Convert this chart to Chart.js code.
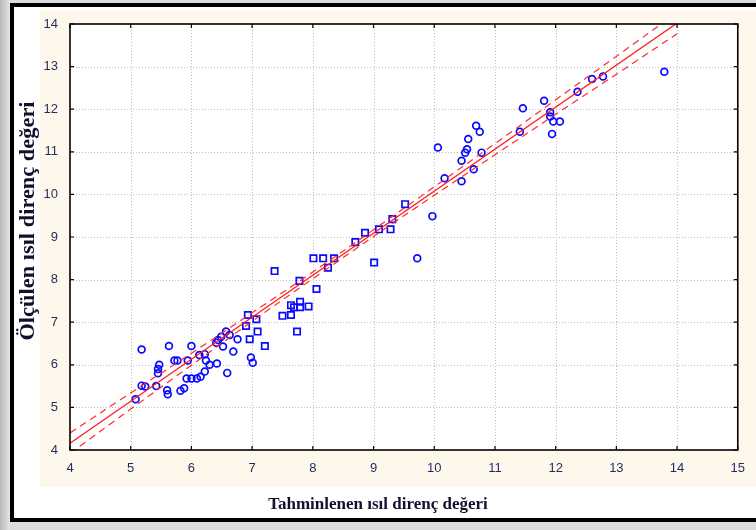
<!DOCTYPE html>
<html>
<head>
<meta charset="utf-8">
<script src="https://cdn.jsdelivr.net/npm/chart.js@4/dist/chart.umd.min.js"></script>
<style>
  html, body { margin: 0; padding: 0; }
  body { width: 756px; height: 530px; position: relative; overflow: hidden; background: #dcdcdc; }
  #shade { position: absolute; left: 0; top: 0; width: 10px; height: 530px; background: linear-gradient(to right, #b9b9b9, #e4e4e4); }
  #frame { position: absolute; left: 10px; top: 3px; width: 760px; height: 511px; border: 4px solid #000; border-right: none; background: #fff; }
  #panel { position: absolute; left: 40px; top: 10px; width: 716px; height: 477px; background: #fdf8eb; }
  #chart { position: absolute; left: 0; top: 0; }
</style>
</head>
<body>
<div id="shade"></div>
<div id="frame"></div>
<div id="panel"></div>
<canvas id="chart" width="756" height="530"></canvas>
<script>
// Axis ticks and titles
const xTickValues = [4, 5, 6, 7, 8, 9, 10, 11, 12, 13, 14, 15];
const yTickValues = [4, 5, 6, 7, 8, 9, 10, 11, 12, 13, 14];
const xTitle = 'Tahminlenen ısıl direnç değeri';
const yTitle = 'Ölçülen ısıl direnç değeri';

// Observations drawn as circles (predicted, measured)
const circleX = [5.08, 5.18, 5.18, 5.24, 5.42, 5.45, 5.45, 5.47, 5.60, 5.61, 5.63, 5.72, 5.77, 5.82, 5.88,
                 5.92, 5.94, 6.00, 6.00, 6.09, 6.13, 6.15, 6.22, 6.24, 6.30, 6.22, 6.42, 6.41, 6.44, 6.49,
                 6.52, 6.57, 6.63, 6.59, 6.69, 6.76, 6.98, 7.01,
                 9.72, 9.97, 10.06, 10.17, 10.45, 10.45, 10.51, 10.54, 10.56, 10.65, 10.69, 10.75, 10.78,
                 11.41, 11.46, 11.81, 11.91, 11.91, 11.96, 12.07, 11.94, 12.36, 12.60, 12.78, 13.79];
const circleY = [5.19, 6.36, 5.51, 5.49, 5.50, 5.80, 5.90, 6.00, 5.40, 5.31, 6.44, 6.10, 6.10, 5.39, 5.45,
                 5.68, 6.10, 6.44, 5.68, 5.68, 6.23, 5.72, 6.25, 6.10, 6.00, 5.84, 6.03, 6.52, 6.58, 6.66,
                 6.43, 6.78, 6.70, 5.81, 6.31, 6.60, 6.17, 6.05,
                 8.50, 9.49, 11.10, 10.38, 10.31, 10.79, 10.98, 11.06, 11.30, 10.59, 11.61, 11.47, 10.98,
                 11.47, 12.02, 12.20, 11.93, 11.83, 11.71, 11.71, 11.42, 12.41, 12.71, 12.77, 12.88];

// Observations drawn as squares (predicted, measured)
const squareX = [6.90, 6.93, 6.96, 7.07, 7.09, 7.21, 7.37, 7.50, 7.64, 7.64, 7.69, 7.74, 7.79, 7.79, 7.93,
                 7.78, 8.06, 8.01, 8.17, 8.35, 8.25, 8.70, 8.86, 9.01, 9.09, 9.28, 9.31, 9.52];
const squareY = [6.91, 7.17, 6.60, 7.07, 6.78, 6.44, 8.20, 7.15, 7.17, 7.40, 7.35, 6.78, 7.48, 7.35, 7.37,
                 7.97, 7.78, 8.50, 8.50, 8.50, 8.28, 8.88, 9.10, 8.40, 9.18, 9.18, 9.42, 9.77];

// Fitted regression line and its confidence band
const fitX = [4, 14];
const fitY = [4.16, 14.02];
const bandX = [4, 5, 6, 7, 8, 9, 10, 11, 12, 13, 14];
const bandUpper = [4.40, 5.34, 6.27, 7.22, 8.18, 9.17, 10.18, 11.19, 12.22, 13.24, 14.27];
const bandLower = [3.92, 4.96, 5.99, 7.02, 8.02, 9.01, 9.98, 10.93, 11.88, 12.82, 13.77];

const pairs = (xs, ys) => xs.map((v, i) => ({ x: v, y: ys[i] }));

const tickColor = '#1f2c5c';
const titleColor = '#12122e';

// White plot area, dotted grid, black frame and inward ticks on all four sides
const plotFrame = {
  id: 'plotFrame',
  beforeDatasetsDraw(chart) {
    const { ctx, chartArea: a, scales: { x, y } } = chart;
    ctx.save();
    ctx.fillStyle = '#ffffff';
    ctx.fillRect(a.left, a.top, a.right - a.left, a.bottom - a.top);
    ctx.strokeStyle = '#bcbcbc';
    ctx.lineWidth = 1;
    ctx.setLineDash([1, 2]);
    ctx.beginPath();
    xTickValues.forEach(v => {
      if (v > x.min && v < x.max) {
        const px = Math.round(x.getPixelForValue(v)) + 0.5;
        ctx.moveTo(px, a.top); ctx.lineTo(px, a.bottom);
      }
    });
    yTickValues.forEach(v => {
      if (v > y.min && v < y.max) {
        const py = Math.round(y.getPixelForValue(v)) + 0.5;
        ctx.moveTo(a.left, py); ctx.lineTo(a.right, py);
      }
    });
    ctx.stroke();
    ctx.restore();
  },
  afterDatasetsDraw(chart) {
    const { ctx, chartArea: a, scales: { x, y } } = chart;
    ctx.save();
    ctx.strokeStyle = '#000';
    ctx.lineWidth = 1.6;
    ctx.strokeRect(a.left, a.top, a.right - a.left, a.bottom - a.top);
    ctx.lineWidth = 1.2;
    ctx.beginPath();
    const t = 4;
    xTickValues.forEach(v => {
      const px = x.getPixelForValue(v);
      ctx.moveTo(px, a.bottom); ctx.lineTo(px, a.bottom - t);
      ctx.moveTo(px, a.top); ctx.lineTo(px, a.top + t);
    });
    yTickValues.forEach(v => {
      const py = y.getPixelForValue(v);
      ctx.moveTo(a.left, py); ctx.lineTo(a.left + t, py);
      ctx.moveTo(a.right, py); ctx.lineTo(a.right - t, py);
    });
    ctx.stroke();
    ctx.restore();
  },
  // Axis titles in a bold serif face; the vertical one is set slightly wide
  afterDraw(chart) {
    const { ctx } = chart;
    ctx.save();
    ctx.fillStyle = titleColor;
    ctx.textAlign = 'center';
    ctx.textBaseline = 'middle';
    ctx.font = 'bold 17px "Liberation Serif", "Times New Roman", serif';
    ctx.fillText(xTitle, 378, 505);
    ctx.translate(29, 221);
    ctx.rotate(-Math.PI / 2);
    ctx.scale(1.12, 1);
    ctx.font = 'bold 20px "Liberation Serif", "Times New Roman", serif';
    ctx.fillText(yTitle, 0, 0);
    ctx.restore();
  }
};

new Chart(document.getElementById('chart'), {
  type: 'scatter',
  data: {
    datasets: [
      {
        label: 'Regresyon',
        data: pairs(fitX, fitY),
        showLine: true,
        borderColor: '#ff1c1c',
        borderWidth: 1.3,
        pointRadius: 0
      },
      {
        label: 'Üst güven sınırı',
        data: pairs(bandX, bandUpper),
        showLine: true,
        tension: 0.4,
        borderColor: '#ff2a2a',
        borderWidth: 1.2,
        borderDash: [7, 5],
        pointRadius: 0
      },
      {
        label: 'Alt güven sınırı',
        data: pairs(bandX, bandLower),
        showLine: true,
        tension: 0.4,
        borderColor: '#ff2a2a',
        borderWidth: 1.2,
        borderDash: [7, 5],
        pointRadius: 0
      },
      {
        label: 'Daire',
        data: pairs(circleX, circleY),
        pointStyle: 'circle',
        pointRadius: 3.4,
        borderWidth: 1.7,
        borderColor: '#0a0aff',
        backgroundColor: 'rgba(255,255,255,0)'
      },
      {
        label: 'Kare',
        data: pairs(squareX, squareY),
        pointStyle: 'rect',
        pointRadius: 4.5,
        borderWidth: 1.7,
        borderColor: '#0a0aff',
        backgroundColor: 'rgba(255,255,255,0)'
      }
    ]
  },
  options: {
    responsive: false,
    animation: false,
    devicePixelRatio: 1,
    layout: { padding: { left: 14, top: 24, right: 16, bottom: 0 } },
    plugins: { legend: { display: false }, tooltip: { enabled: false } },
    scales: {
      x: {
        type: 'linear',
        min: 4, max: 15,
        afterBuildTicks: s => { s.ticks = xTickValues.map(v => ({ value: v })); },
        afterFit: s => { s.height = 80; },
        ticks: { color: tickColor, padding: 11, font: { family: 'Liberation Sans, Arial, sans-serif', size: 13 } },
        grid: { display: false, drawTicks: false },
        border: { display: false }
      },
      y: {
        type: 'linear',
        min: 4, max: 14,
        afterBuildTicks: s => { s.ticks = yTickValues.map(v => ({ value: v })); },
        afterFit: s => { s.width = 56; },
        ticks: { color: tickColor, padding: 12, font: { family: 'Liberation Sans, Arial, sans-serif', size: 13 } },
        grid: { display: false, drawTicks: false },
        border: { display: false }
      }
    }
  },
  plugins: [plotFrame]
});
</script>
</body>
</html>
